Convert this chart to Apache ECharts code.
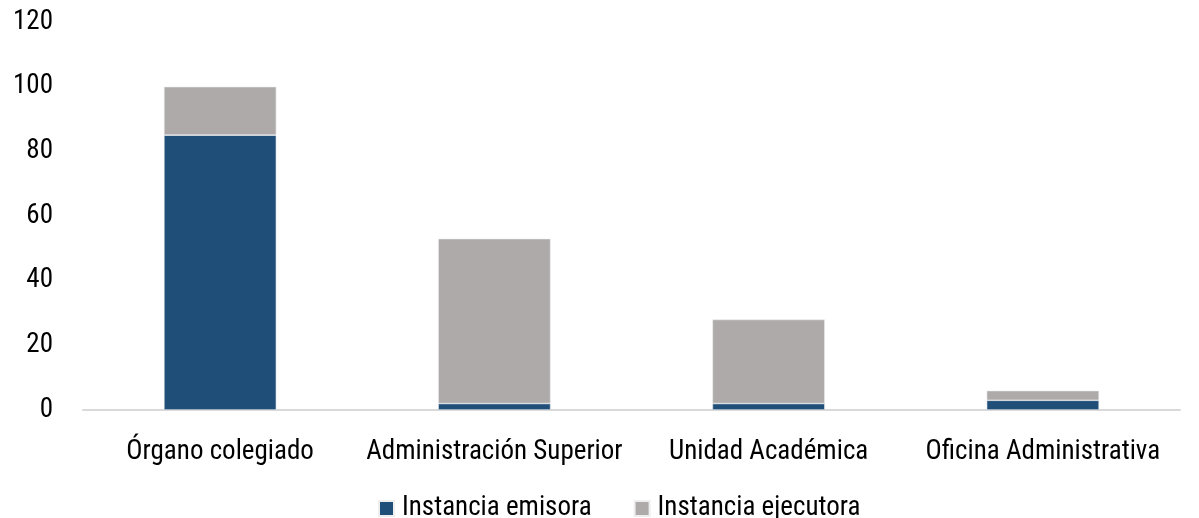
<!DOCTYPE html>
<html><head><meta charset="utf-8">
<script src="https://cdn.jsdelivr.net/npm/echarts@6/dist/echarts.min.js"></script>
<style>html,body{margin:0;padding:0;background:#fff}#c{width:1199px;height:518px}</style>
</head><body><div id="c"></div>
<script>
const categories = ["Órgano colegiado", "Administración Superior", "Unidad Académica", "Oficina Administrativa"];
const emisora = [85, 2, 2, 3];
const ejecutora = [15, 51, 26, 3];
const yTicks = {min: 0, max: 120, interval: 20};
const FONT = "'Liberation Sans Narrow', 'Roboto Condensed', 'Noto Sans', sans-serif";
const FS = 27;
const chart = echarts.init(document.getElementById('c'));
chart.setOption({
  animation: false,
  textStyle: {fontFamily: FONT},
  grid: {left: 83, right: 19, top: 22, bottom: 108, containLabel: false},
  legend: {
    bottom: -9, left: 373, itemWidth: 15, itemHeight: 15, itemGap: 42,
    icon: 'rect',
    textStyle: {fontFamily: FONT, fontSize: FS, color: '#000', padding: [0, 0, 0, 3]},
    data: ['Instancia emisora', 'Instancia ejecutora']
  },
  xAxis: {
    type: 'category', data: categories,
    axisLine: {lineStyle: {color: '#d9d9d9', width: 2}},
    axisTick: {show: false},
    axisLabel: {fontFamily: FONT, fontSize: FS, color: '#000', margin: 29, interval: 0}
  },
  yAxis: {
    type: 'value', min: yTicks.min, max: yTicks.max, interval: yTicks.interval,
    axisLine: {show: false}, axisTick: {show: false},
    splitLine: {show: false},
    axisLabel: {fontFamily: FONT, fontSize: FS, color: '#000', margin: 30}
  },
  series: [
    {name: 'Instancia emisora', type: 'bar', stack: 't', data: emisora, barWidth: '41%',
     itemStyle: {color: '#1F4E79', borderColor: '#eeeeee', borderWidth: 0.6}},
    {name: 'Instancia ejecutora', type: 'bar', stack: 't', data: ejecutora, barWidth: '41%',
     itemStyle: {color: '#AEAAAA', borderColor: '#eeeeee', borderWidth: 0.6}}
  ]
});
</script></body></html>
